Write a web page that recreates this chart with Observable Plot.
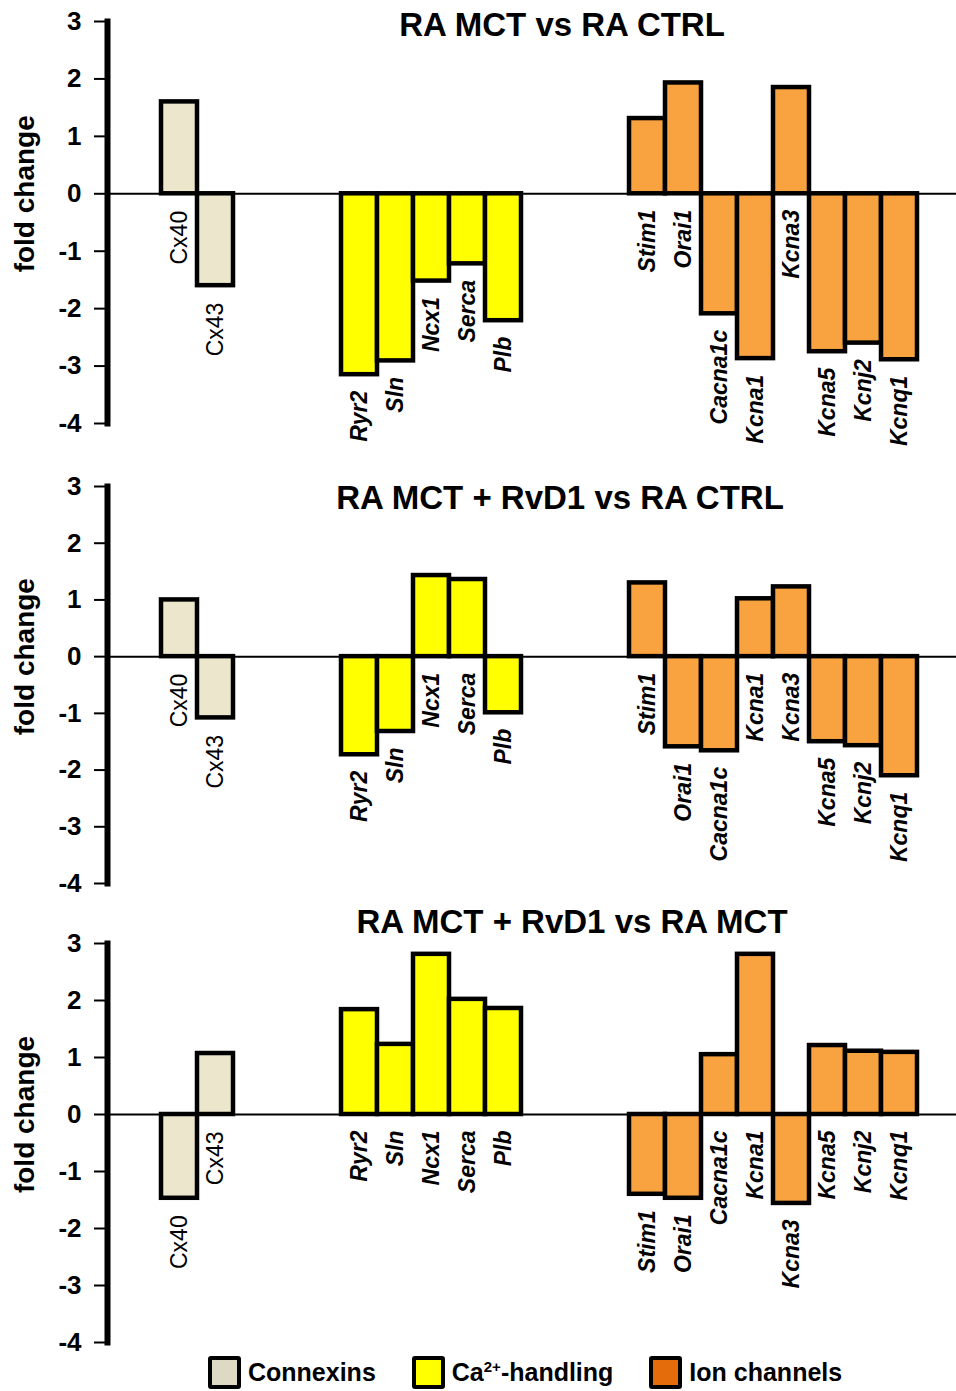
<!DOCTYPE html>
<html><head><meta charset="utf-8">
<script src="https://cdn.jsdelivr.net/npm/d3@7"></script>
<script src="https://cdn.jsdelivr.net/npm/@observablehq/plot@0.6"></script>
<style>
body{margin:0;background:#fff;font-family:"Liberation Sans",Arial,sans-serif;}
#wrap{position:relative;width:956px;height:1391px;overflow:hidden;background:#fff;}
.panel{position:absolute;left:0;}
#legend{position:absolute;left:208px;top:1356px;display:flex;align-items:center;font-weight:bold;font-size:25px;color:#000;}
.sw{width:33px;height:33px;box-sizing:border-box;border:4px solid #000;border-radius:3px;}
.item{display:flex;align-items:center;margin-right:36px;}
.item span{margin-left:7px;}
sup{font-size:0.6em;line-height:0;}
</style></head><body><div id="wrap"></div>
<script>
// ---- data ----
const genes = ["Cx40","Cx43","Ryr2","Sln","Ncx1","Serca","Plb","Stim1","Orai1","Cacna1c","Kcna1","Kcna3","Kcna5","Kcnj2","Kcnq1"];
const geneGroup = ["Connexins","Connexins","Ca-handling","Ca-handling","Ca-handling","Ca-handling","Ca-handling",
  "Ion channels","Ion channels","Ion channels","Ion channels","Ion channels","Ion channels","Ion channels","Ion channels"];
const slots = ["Cx40","Cx43","gap1","gap2","gap3","Ryr2","Sln","Ncx1","Serca","Plb","gap4","gap5","gap6",
  "Stim1","Orai1","Cacna1c","Kcna1","Kcna3","Kcna5","Kcnj2","Kcnq1"];
const groupNames = ["Connexins","Ca-handling","Ion channels"];
const groupLabels = ["Connexins","Ca<sup>2+</sup>-handling","Ion channels"];
const barColors = ["#ebe6cc","#ffff00","#f9a240"];
const legendColors = ["#ddd9c3","#ffff00","#e46c0a"];
const panelTitles = ["RA MCT vs RA CTRL","RA MCT + RvD1 vs RA CTRL","RA MCT + RvD1 vs RA MCT"];
const valuesMCTvsCTRL  = [1.60,-1.60,-3.15,-2.91,-1.52,-1.22,-2.21, 1.31, 1.93,-2.09,-2.87, 1.85,-2.75,-2.60,-2.89];
const valuesRvD1vsCTRL = [1.00,-1.08,-1.73,-1.32, 1.43, 1.36,-0.99, 1.30,-1.59,-1.66, 1.02, 1.23,-1.50,-1.57,-2.10];
const valuesRvD1vsMCT  = [-1.47,1.07, 1.84, 1.23, 2.81, 2.02, 1.86,-1.40,-1.47, 1.05, 2.81,-1.56, 1.21, 1.11, 1.09];
const yTicks = [-4,-3,-2,-1,0,1,2,3];
const yLabel = "fold change";

// ---- layout ----
const layouts = [
  {top:0,   height:460, mt:21, mb:37, tdx:30, tdy:4,   tsize:33},
  {top:460, height:440, mt:26, mb:17, tdx:28, tdy:12,  tsize:33},
  {top:900, height:450, mt:43, mb:8,  tdx:40, tdy:-21, tsize:33}
];
const allValues = [valuesMCTvsCTRL, valuesRvD1vsCTRL, valuesRvD1vsMCT];
const font = "Liberation Sans, Arial, sans-serif";

function panel(values, title, L) {
  const data = genes.map((g,i)=>({gene:g, group:geneGroup[i], value:values[i]}));
  return Plot.plot({
    width:956, height:L.height, marginTop:L.mt, marginBottom:L.mb, marginLeft:107, marginRight:0,
    style:{fontFamily:font, overflow:"visible", background:"transparent", color:"#000"},
    x:{type:"band", domain:slots, range:[161,917], padding:0, axis:null},
    y:{domain:[-4,3], axis:null},
    color:{domain:groupNames, range:barColors},
    marks:[
      Plot.ruleY([0], {stroke:"#000", strokeWidth:2}),
      Plot.barY(data, {x:"gene", y1:0, y2:"value", fill:"group", stroke:"#000", strokeWidth:4.5, inset:0}),
      Plot.text(data, {filter:d=>d.group==="Connexins", x:"gene", y:d=>Math.min(0,d.value), text:"gene",
        rotate:-90, textAnchor:"end", lineAnchor:"middle", dy:17, fontSize:23}),
      Plot.text(data, {filter:d=>d.group!=="Connexins", x:"gene", y:d=>Math.min(0,d.value), text:"gene",
        rotate:-90, textAnchor:"end", lineAnchor:"middle", dy:16, fontSize:23, fontStyle:"italic", fontWeight:"bold"}),
      Plot.axisY({ticks:yTicks, tickSize:13, tickPadding:13, tickFormat:d=>String(d), fontSize:26,
        fontWeight:"bold", label:null, strokeWidth:2}),
      Plot.frame({anchor:"left", strokeWidth:6}),
      Plot.text([title], {frameAnchor:"top", dx:L.tdx, dy:L.tdy, fontSize:L.tsize, fontWeight:"bold", lineAnchor:"middle"}),
      Plot.text([0], {y:d=>d, text:()=>yLabel, frameAnchor:"left", dx:-82, rotate:-90, fontSize:28,
        fontWeight:"bold", textAnchor:"middle", lineAnchor:"middle"})
    ]
  });
}

const wrap = document.getElementById("wrap");
layouts.forEach((L,i)=>{
  const div = document.createElement("div");
  div.className = "panel";
  div.style.top = L.top + "px";
  div.appendChild(panel(allValues[i], panelTitles[i], L));
  wrap.appendChild(div);
});

const legend = document.createElement("div");
legend.id = "legend";
groupNames.forEach((g,i)=>{
  const item = document.createElement("div");
  item.className = "item";
  const sw = document.createElement("div");
  sw.className = "sw";
  sw.style.background = legendColors[i];
  const t = document.createElement("span");
  t.innerHTML = groupLabels[i];
  item.appendChild(sw); item.appendChild(t);
  legend.appendChild(item);
});
wrap.appendChild(legend);
</script></body></html>
